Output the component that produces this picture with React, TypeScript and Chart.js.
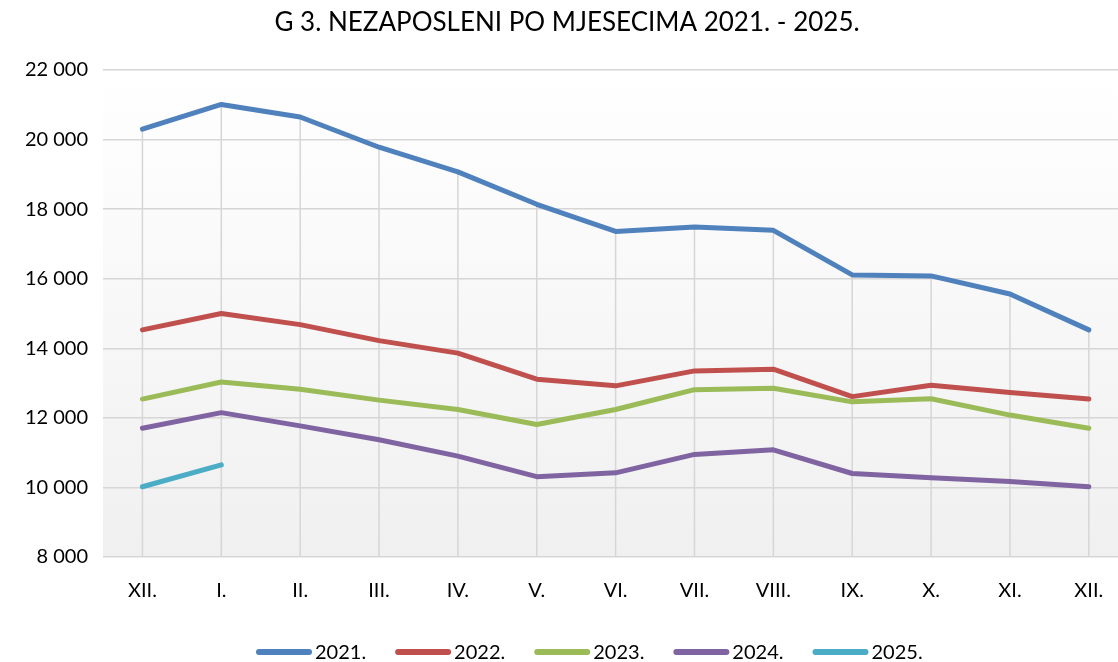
import React, { useEffect, useRef } from "react";
import { Chart, registerables } from "chart.js";

Chart.register(...registerables);

const TITLE = "G 3. NEZAPOSLENI PO MJESECIMA 2021. - 2025.";
const monthLabels = ["XII.", "I.", "II.", "III.", "IV.", "V.", "VI.", "VII.", "VIII.", "IX.", "X.", "XI.", "XII."];
const seriesNames = ["2021.", "2022.", "2023.", "2024.", "2025."];
const s2021 = [20300, 21010, 20650, 19780, 19070, 18140, 17360, 17490, 17390, 16110, 16080, 15560, 14530];
const s2022 = [14530, 15000, 14680, 14220, 13860, 13110, 12920, 13350, 13400, 12610, 12940, 12730, 12540];
const s2023 = [12540, 13030, 12820, 12510, 12240, 11810, 12240, 12810, 12850, 12460, 12550, 12080, 11700];
const s2024 = [11700, 12150, 11770, 11370, 10900, 10310, 10420, 10950, 11080, 10400, 10280, 10170, 10020];
const s2025 = [10020, 10650];
const seriesColors = ["#4f81bd", "#c0504d", "#9bbb59", "#8064a2", "#4bacc6"];
const Y_MIN = 8000;
const Y_MAX = 22000;
const Y_STEP = 2000;

const FONT = "Lato, 'Open Sans', sans-serif";

const allSeries = [s2021, s2022, s2023, s2024, s2025];

const fmt = (v: number) => String(v).replace(/\B(?=(\d{3})+(?!\d))/g, " ");

const bgPlugin = {
  id: "plotBg",
  beforeDraw(chart: any) {
    const { ctx, chartArea } = chart;
    if (!chartArea) return;
    const g = ctx.createLinearGradient(0, chartArea.top, 0, chartArea.bottom);
    g.addColorStop(0, "#ffffff");
    g.addColorStop(1, "#f0f0f0");
    ctx.save();
    ctx.fillStyle = g;
    ctx.fillRect(chartArea.left, chartArea.top, chartArea.right - chartArea.left, chartArea.bottom - chartArea.top);
    ctx.restore();
  },
};

const dropLinesPlugin = {
  id: "dropLines",
  beforeDatasetsDraw(chart: any) {
    const { ctx, chartArea, scales } = chart;
    const xs = scales.x;
    const ys = scales.y;
    ctx.save();
    ctx.strokeStyle = "#d6d6d6";
    ctx.lineWidth = 1.5;
    monthLabels.forEach((_, i) => {
      const vals = allSeries.map((s) => s[i]).filter((v) => v !== undefined);
      if (!vals.length) return;
      const top = Math.max(...vals);
      const px = xs.getPixelForValue(i);
      ctx.beginPath();
      ctx.moveTo(px, ys.getPixelForValue(top));
      ctx.lineTo(px, chartArea.bottom);
      ctx.stroke();
    });
    ctx.restore();
  },
};

const titleLegendPlugin = {
  id: "titleLegend",
  afterDraw(chart: any) {
    const { ctx } = chart;
    ctx.save();
    ctx.fillStyle = "#000";
    ctx.textAlign = "center";
    ctx.textBaseline = "middle";
    ctx.font = `26px ${FONT}`;
    ctx.fillText(TITLE, 567, 23);

    ctx.font = `20px ${FONT}`;
    ctx.textAlign = "left";
    let x = 256;
    const y = 652;
    chart.data.datasets.forEach((ds: any) => {
      ctx.strokeStyle = ds.borderColor;
      ctx.lineWidth = 6;
      ctx.lineCap = "round";
      ctx.beginPath();
      ctx.moveTo(x + 3, y);
      ctx.lineTo(x + 53, y);
      ctx.stroke();
      ctx.fillText(ds.label, x + 59, y + 1);
      x += 59 + ctx.measureText(ds.label).width + 29;
    });
    ctx.restore();
  },
};

export default function App() {
  const ref = useRef<HTMLCanvasElement | null>(null);

  useEffect(() => {
    if (!ref.current) return;
    const chart = new Chart(ref.current, {
      type: "line",
      data: {
        datasets: allSeries.map((s, k) => ({
          label: seriesNames[k],
          data: s.map((v, i) => ({ x: i, y: v })),
          borderColor: seriesColors[k],
          backgroundColor: seriesColors[k],
          borderWidth: 5,
          pointRadius: 0,
          borderCapStyle: "round",
          borderJoinStyle: "round",
          tension: 0,
          order: k,
        })),
      },
      options: {
        animation: false,
        responsive: true,
        maintainAspectRatio: false,
        layout: { padding: { left: 0, right: 0, top: 70, bottom: 65 } },
        plugins: {
          tooltip: { enabled: false },
          title: { display: false },
          legend: { display: false },
        },
        scales: {
          x: {
            type: "linear",
            min: -0.5,
            max: 12.37,
            afterBuildTicks: (axis: any) => {
              axis.ticks = monthLabels.map((_, i) => ({ value: i }));
            },
            afterFit: (scale: any) => {
              scale.height = 40;
              scale.paddingLeft = 0;
              scale.paddingRight = 0;
            },
            ticks: {
              callback: (v: any) => monthLabels[v as number] ?? "",
              color: "#000",
              font: { family: FONT, size: 20 },
              padding: 22,
              maxRotation: 0,
              autoSkip: false,
            },
            grid: { display: false, drawTicks: false },
            border: { display: false },
          },
          y: {
            min: Y_MIN,
            max: Y_MAX,
            afterFit: (scale: any) => {
              scale.width = 103;
              scale.paddingTop = 0;
              scale.paddingBottom = 0;
            },
            ticks: {
              stepSize: Y_STEP,
              callback: (v: any) => fmt(v as number),
              color: "#000",
              font: { family: FONT, size: 20 },
              padding: 15,
            },
            grid: { color: "#d6d6d6", lineWidth: 1.5, drawTicks: false },
            border: { display: false },
          },
        },
      },
      plugins: [bgPlugin, dropLinesPlugin, titleLegendPlugin],
    } as any);
    return () => chart.destroy();
  }, []);

  return (
    <div style={{ position: "fixed", left: 0, top: 0, width: 1118, height: 662, background: "#fff" }}>
      <canvas ref={ref} />
    </div>
  );
}
